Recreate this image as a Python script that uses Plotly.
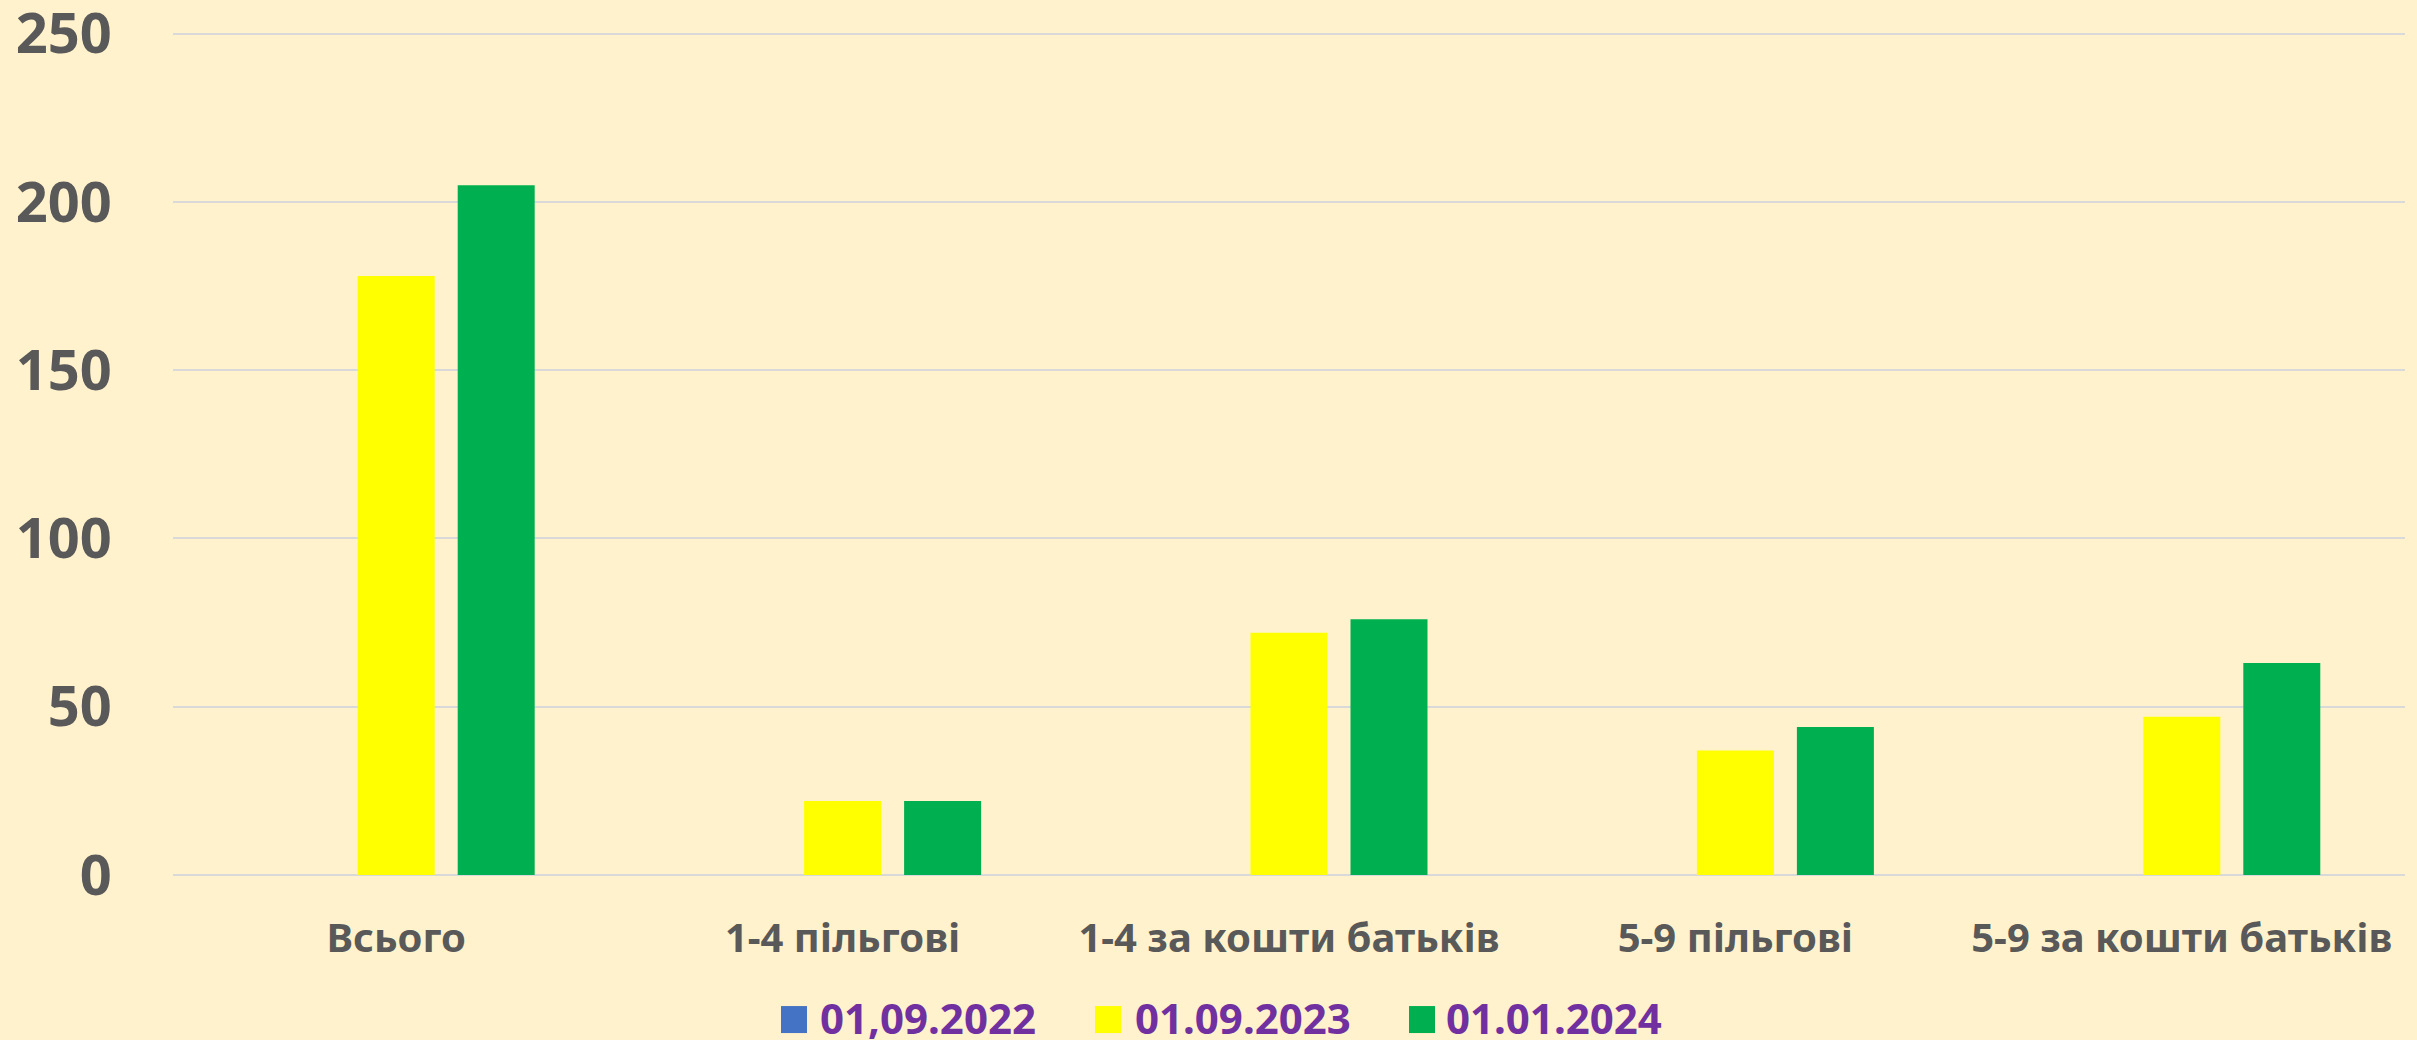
import plotly.graph_objects as go

categories = ["Всього", "1-4 пільгові", "1-4 за кошти батьків", "5-9 пільгові", "5-9 за кошти батьків"]
series_names = ["01,09.2022", "01.09.2023", "01.01.2024"]
values_2022 = [0, 0, 0, 0, 0]
values_2023 = [178, 22, 72, 37, 47]
values_2024 = [205, 22, 76, 44, 63]
y_ticks = [0, 50, 100, 150, 200, 250]

colors = ["#4472C4", "#FFFF00", "#00B050"]
series_values = [values_2022, values_2023, values_2024]

W, H = 2417, 1040
Y_TOP = 252  # axis range top (a bit above the 250 gridline so it is drawn)
L, R, B = 173, 2405, 875  # plot area in pixels
T = B - (B - 34) * Y_TOP / 250

fig = go.Figure()
for name, vals, col in zip(series_names, series_values, colors):
    fig.add_trace(go.Bar(x=categories, y=vals, name=name, marker=dict(color=col, line=dict(width=0)),
                         showlegend=False))

font_family = "Noto Sans"

fig.update_layout(
    width=W, height=H,
    margin=dict(l=L, r=W - R, t=T, b=H - B, pad=0, autoexpand=False),
    paper_bgcolor="#FFF2CC",
    plot_bgcolor="#FFF2CC",
    barmode="group",
    bargap=0.328,
    bargroupgap=0.23,
    font=dict(family=font_family, color="#595959"),
    xaxis=dict(
        showgrid=False, showline=False, zeroline=False, automargin=False,
        ticks="outside", ticklen=28, tickcolor="rgba(0,0,0,0)",
        tickfont=dict(size=40, family=font_family, color="#595959", weight="bold"),
    ),
    yaxis=dict(
        range=[0, Y_TOP], tickvals=y_ticks, automargin=False,
        ticklabeloverflow="allow",
        showgrid=True, gridcolor="#D9D9D9", gridwidth=2,
        zeroline=True, zerolinecolor="#D9D9D9", zerolinewidth=2,
        showline=False,
        ticks="outside", ticklen=49, tickcolor="rgba(0,0,0,0)",
        tickfont=dict(size=56, family=font_family, color="#595959", weight="bold"),
    ),
)

# Manual legend (large square markers like the original)
def px2x(px):
    return (px - L) / (R - L)

def py2y(py):
    return (B - py) / (B - T)

marker_left = [781, 1095, 1409]
text_left = [821, 1136, 1447]
for name, col, mx, tx in zip(series_names, colors, marker_left, text_left):
    fig.add_shape(type="rect", xref="paper", yref="paper",
                  x0=px2x(mx), x1=px2x(mx + 26), y0=py2y(1006), y1=py2y(1033),
                  fillcolor=col, line=dict(width=0))
    fig.add_annotation(xref="paper", yref="paper", x=px2x(tx - 3), y=py2y(1017),
                       xanchor="left", yanchor="middle", showarrow=False, text=name,
                       font=dict(size=42, family=font_family, color="#7030A0", weight="bold"))

fig.write_html("out.html", config={"displayModeBar": False},
               post_script="document.body.style.margin='0';document.body.style.overflow='hidden';")
